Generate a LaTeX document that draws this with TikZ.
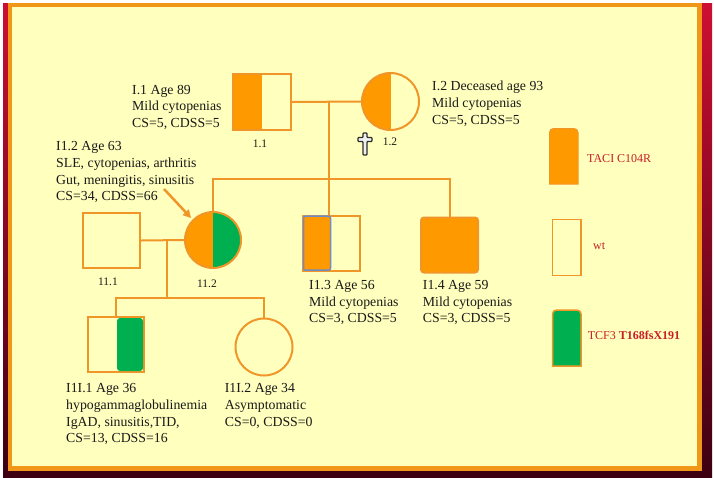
\documentclass[tikz,border=0pt]{standalone}
\usepackage{fontspec}
\setmainfont{Liberation Serif}
\usetikzlibrary{arrows.meta}
\definecolor{bgy}{RGB}{255,255,190}
\definecolor{frameor}{RGB}{240,150,25}
\definecolor{fillor}{RGB}{255,153,0}
\definecolor{lineor}{RGB}{240,150,40}
\definecolor{grn}{RGB}{0,176,80}
\definecolor{crim}{RGB}{205,15,50}
\definecolor{darkmar}{RGB}{60,0,18}
\definecolor{legred}{RGB}{200,30,40}
\definecolor{bluegr}{RGB}{110,140,200}
\definecolor{txtc}{RGB}{25,25,25}
\begin{document}
\begin{tikzpicture}[x=1pt,y=-1pt,
  txt/.style={anchor=base west, inner sep=0pt, font=\fontsize{13.8}{16.7}\selectfont, text=txtc},
  idl/.style={anchor=base, inner sep=0pt, font=\fontsize{11.5}{13}\selectfont, text=txtc},
  leg/.style={anchor=base west, inner sep=0pt, font=\fontsize{12}{14}\selectfont, text=legred},
  sqb/.style={draw=lineor, line width=2pt, minimum width=57pt, minimum height=55pt, inner sep=0pt},
  cib/.style={draw=lineor, line width=2pt, circle, minimum size=57pt, inner sep=0pt},
  con/.style={draw=lineor, line width=2pt},
  lefto/.style={path picture={\fill[fillor] (path picture bounding box.north west) rectangle (path picture bounding box.south);}},
  leftoright/.style={path picture={\fill[fillor] (path picture bounding box.north west) rectangle (path picture bounding box.south);
     \fill[grn] (path picture bounding box.north) rectangle (path picture bounding box.south east);}}]
\useasboundingbox (0,0) rectangle (714,477);
% frame
\fill[white] (0,0) rectangle (714,477);
\shade[top color=crim, bottom color=darkmar] (3,3) rectangle (712,477);
\fill[frameor] (8,3) rectangle (702,471);
\fill[bgy] (12,7) rectangle (697,466);
% generation I
\node[sqb, minimum width=58pt, minimum height=56pt, lefto] (I1) at (262,102) {};
\node[cib, lefto] (I2) at (390.5,101.5) {};
\node[idl] (l11) at (260,147) {1.1};
\node[idl] (l12) at (390,145) {1.2};
\filldraw[fill=gray!12, draw=gray!35!black, line width=1.2pt, rounded corners=0.8pt]
  (363,133) -- (367,133) -- (367,137.5) -- (372,137.5) -- (372,141.5) -- (367,141.5)
  -- (367,155) -- (363,155) -- (363,141.5) -- (358,141.5) -- (358,137.5) -- (363,137.5) -- cycle;
% generation II
\node[sqb] (II1) at (111.5,240.5) {};
\node[cib, minimum size=56pt, leftoright] (II2) at (213,240) {};
\node[sqb] (II3) at (331.5,243.2) {};
\filldraw[fill=fillor, draw=bluegr, line width=1.5pt, rounded corners=2pt] (303.5,216.2) rectangle (330.5,270.2);
\node[sqb, fill=fillor, rounded corners=3pt] (II4) at (449.5,245) {};
\node[idl] (l21) at (108,285) {11.1};
\node[idl] (l22) at (207,287) {11.2};
% generation III
\node[sqb, minimum width=56pt] (III1) at (116,344.5) {};
\fill[grn, rounded corners=3pt] (117,318) rectangle (143,371);
\node[cib] (III2) at (264,347) {};
% connectors
\coordinate (m1) at (329,102);
\coordinate (sibR) at (II4.north |- 0,179);
\draw[con] (I1.east) -- (I2.west);
\draw[con] (m1) -- (m1 |- II3.north);
\draw[con] (II2.north) -- (II2.north |- sibR) -- (sibR) -- (II4.north);
\draw[con] (II1.east) -- (II2.west);
\coordinate (m2) at (167,240.5);
\coordinate (d2) at (167,298);
\draw[con] (m2) -- (d2);
\draw[con] (III1.north) -- (III1.north |- d2) -- (III2.north |- d2) -- (III2.north);
\coordinate (ar1) at (164,189);
\draw[con, line width=2.5pt, shorten >=2pt, -{Triangle[length=8pt,width=8pt]}] (ar1) -- (II2.north west);
% texts
\node[txt] (t11a) at (132,94) {I.1 Age 89};
\node[txt] (t11b) at (132,110.7) {Mild cytopenias};
\node[txt] (t11c) at (132,127.4) {CS=5, CDSS=5};
\node[txt] (t12a) at (432,90.7) {I.2 Deceased age 93};
\node[txt] (t12b) at (432,107.4) {Mild cytopenias};
\node[txt] (t12c) at (432,124.1) {CS=5, CDSS=5};
\node[txt] (t22a) at (56,150.7) {I1.2 Age 63};
\node[txt] (t22b) at (56,167.4) {SLE, cytopenias, arthritis};
\node[txt] (t22c) at (56,184.1) {Gut, meningitis, sinusitis};
\node[txt] (t22d) at (56,200.8) {CS=34, CDSS=66};
\node[txt] (t23a) at (309,289.3) {I1.3 Age 56};
\node[txt] (t23b) at (309,306) {Mild cytopenias};
\node[txt] (t23c) at (309,322.7) {CS=3, CDSS=5};
\node[txt] (t24a) at (422.7,289.3) {I1.4 Age 59};
\node[txt] (t24b) at (422.7,306) {Mild cytopenias};
\node[txt] (t24c) at (422.7,322.7) {CS=3, CDSS=5};
\node[txt] (t31a) at (66,392.7) {I1I.1 Age 36};
\node[txt] (t31b) at (66,409.4) {hypogammaglobulinemia};
\node[txt] (t31c) at (66,426.1) {IgAD, sinusitis,TID,};
\node[txt] (t31d) at (66,442.8) {CS=13, CDSS=16};
\node[txt] (t32a) at (224.7,392.7) {I1I.2 Age 34};
\node[txt] (t32b) at (224.7,409.4) {Asymptomatic};
\node[txt] (t32c) at (224.7,426.1) {CS=0, CDSS=0};
% legend
\filldraw[fill=fillor, draw=lineor, line width=1pt] (549.5,184) {[rounded corners=4pt] -- (549.5,128.5) -- (578,128.5)} -- (578,184) -- cycle;
\draw[draw=lineor, line width=1.8pt] (552.5,219.5) rectangle (581,275.5);
\filldraw[fill=grn, draw=lineor, line width=1.5pt] (552.5,366) {[rounded corners=4pt] -- (552.5,310) -- (581,310)} -- (581,366) -- cycle;
\node[leg] (lg1) at (587,162.7) {TACI C104R};
\node[leg] (lg2) at (593,249) {wt};
\node[leg] (lg3) at (587.7,339.5) {TCF3 \textbf{T168fsX191}};
\end{tikzpicture}
\end{document}
